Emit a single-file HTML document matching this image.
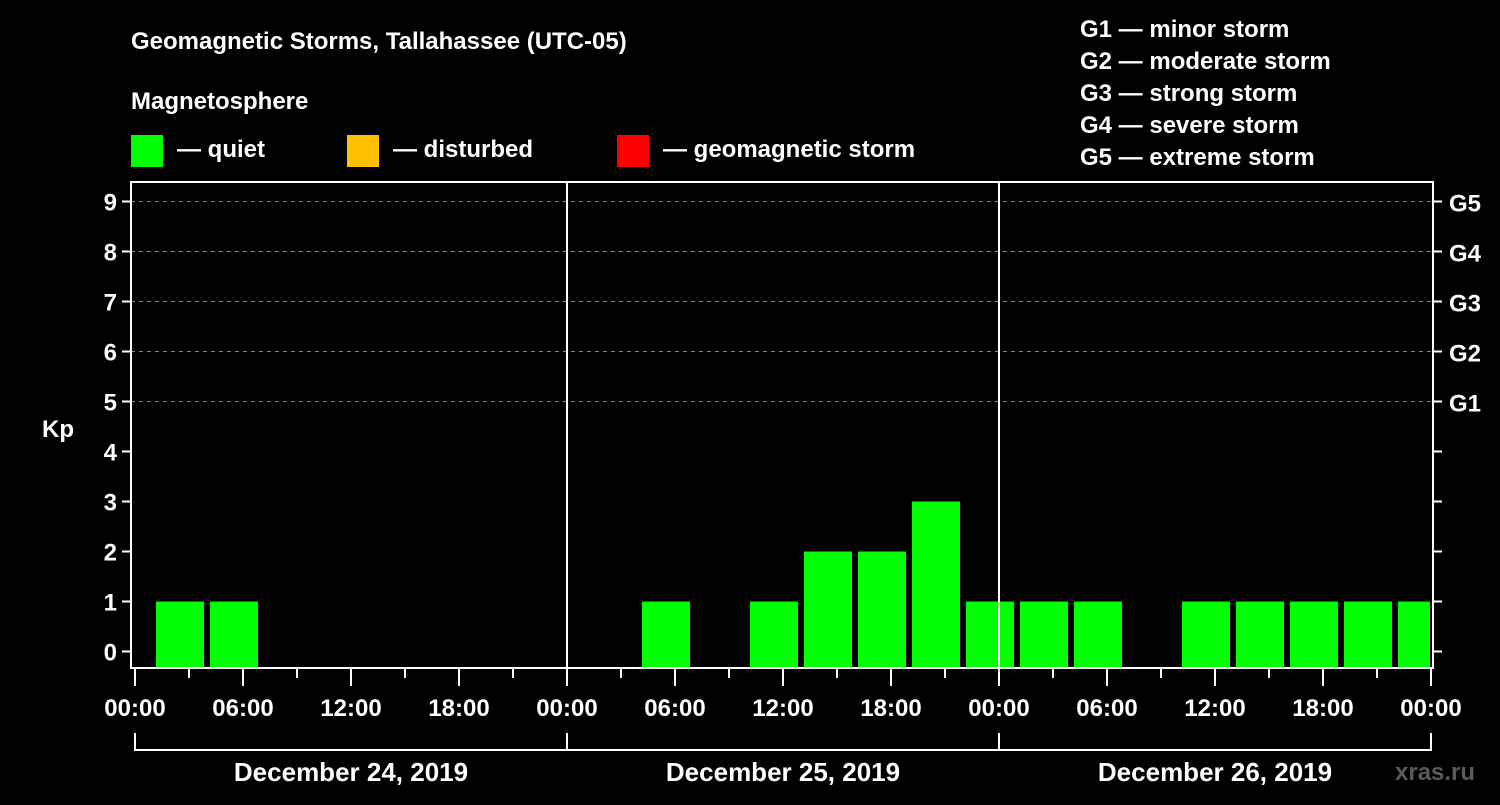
<!DOCTYPE html>
<html><head><meta charset="utf-8"><style>
body{margin:0;background:#000;width:1500px;height:800px;overflow:hidden}
text{font-family:"Liberation Sans",sans-serif;font-weight:bold;fill:#fff}
</style></head><body>
<svg id="chart" width="1500" height="800" xmlns="http://www.w3.org/2000/svg">
<rect width="1500" height="800" fill="#000"/>
<text x="131" y="49" font-size="24">Geomagnetic Storms, Tallahassee (UTC-05)</text>
<text x="131" y="109" font-size="24">Magnetosphere</text>
<g>
<rect x="131" y="135" width="32" height="32" fill="#00ff00"/>
<text x="177" y="157" font-size="24">— quiet</text>
<rect x="347" y="135" width="32" height="32" fill="#ffc000"/>
<text x="393" y="157" font-size="24">— disturbed</text>
<rect x="617" y="135" width="32" height="32" fill="#ff0000"/>
<text x="663" y="157" font-size="24">— geomagnetic storm</text>
</g>
<g font-size="24">
<text x="1080" y="37">G1 — minor storm</text>
<text x="1080" y="69">G2 — moderate storm</text>
<text x="1080" y="101">G3 — strong storm</text>
<text x="1080" y="133">G4 — severe storm</text>
<text x="1080" y="165">G5 — extreme storm</text>
</g>
<text x="42" y="437" font-size="24">Kp</text>
<text x="1395" y="780" font-size="24" fill="#555" style="fill:#5a5a5a">xras.ru</text>
<g id="grid"></g><g id="bars"></g><g id="axes"></g>
</svg>
<script>
const kpValues = [1,1,null,null,null,null,null,null,null,1,null,1,2,2,3,1,1,1,null,1,1,1,1,1];
const slotStartHour = 1;
const slotHours = 3;
const yTicks = [0,1,2,3,4,5,6,7,8,9];
const gLabels = ["G1","G2","G3","G4","G5"];
const xTickLabels = ["00:00","06:00","12:00","18:00","00:00","06:00","12:00","18:00","00:00","06:00","12:00","18:00","00:00"];
const dayLabels = ["December 24, 2019","December 25, 2019","December 26, 2019"];

const NS="http://www.w3.org/2000/svg";
const L=131,R=1433,T=182,B=668,X0=135,PXH=18,TOTAL=72;
const x=h=>X0+h*PXH;
const y=k=>651.5-k*50;
function mk(tag,attrs,parent){const e=document.createElementNS(NS,tag);for(const k in attrs)e.setAttribute(k,attrs[k]);parent.appendChild(e);return e;}
const grid=document.getElementById('grid'),bars=document.getElementById('bars'),axes=document.getElementById('axes');
yTicks.forEach(k=>{
  if(k>=5){const g=mk('line',{x1:L,x2:R,y1:y(k),y2:y(k),stroke:'#888','stroke-dasharray':'4,4','stroke-width':1},grid);
  
  }
  const t=mk('line',{x1:L-9,x2:L,y1:y(k),y2:y(k),stroke:'#fff','stroke-width':2},axes);
  
  
  const t2=mk('line',{x1:R,x2:R+9,y1:y(k),y2:y(k),stroke:'#fff','stroke-width':2},axes);
  
  
  const lb=mk('text',{x:L-14,y:y(k)+9,'font-size':24,'text-anchor':'end'},axes);lb.textContent=k;
  
  
  if(k>=5){const gl=mk('text',{x:R+16,y:y(k)+10,'font-size':24},axes);gl.textContent=gLabels[k-5];
  
  }
});
kpValues.forEach((v,i)=>{
  if(v===null)return;
  const h0=slotStartHour+i*slotHours;
  const xa=x(h0)+3, xb=Math.min(x(h0+slotHours)-3,R-3);
  const col=v>=5?'#ff0000':(v>=4?'#ffc000':'#00ff00');
  const r=mk('rect',{x:xa,y:y(v),width:xb-xa,height:B-y(v),fill:col},bars);
  
  
});
[24,48].forEach(h=>{const d=mk('line',{x1:x(h),x2:x(h),y1:T,y2:B,stroke:'#fff','stroke-width':2},axes);

});
const fr=mk('rect',{x:L,y:T,width:R-L,height:B-T,fill:'none',stroke:'#fff','stroke-width':2},axes);


for(let h=0;h<=TOTAL;h+=3){
  const major=h%6===0;
  const t=mk('line',{x1:x(h),x2:x(h),y1:B,y2:major?686:678,stroke:'#fff','stroke-width':2},axes);
  
  
}
xTickLabels.forEach((s,i)=>{const t=mk('text',{x:x(i*6),y:716,'font-size':24,'text-anchor':'middle'},axes);t.textContent=s;

});
dayLabels.forEach((s,i)=>{
  const a=x(i*24),b=x((i+1)*24);
  const p=mk('path',{d:`M${a},733V750H${b}V733`,fill:'none',stroke:'#fff','stroke-width':2},axes);
  
  
  const t=mk('text',{x:(a+b)/2,y:781,'font-size':26,'text-anchor':'middle'},axes);t.textContent=s;
  
  
});
</script>
</body></html>
